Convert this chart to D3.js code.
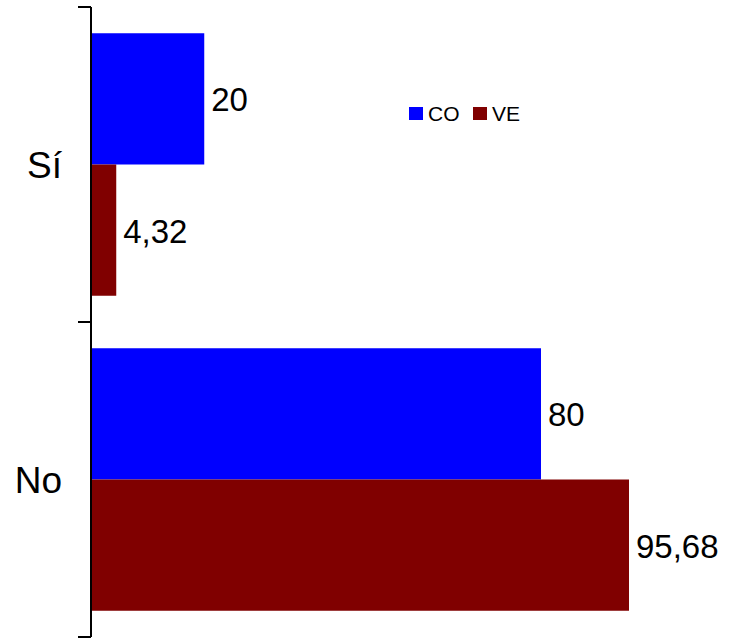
<!DOCTYPE html>
<html><head><meta charset="utf-8">
<script src="https://cdn.jsdelivr.net/npm/d3@7"></script>
<style>body{margin:0;background:#fff}svg{display:block}text{font-family:"Liberation Sans",Arial,sans-serif}</style>
</head><body><svg id="c" width="741" height="642"></svg>
<script>
const categories = ["Sí", "No"];
const seriesNames = ["CO", "VE"];
const CO = [20, 80];
const VE = [4.32, 95.68];
const labelsCO = ["20", "80"];
const labelsVE = ["4,32", "95,68"];
const colors = ["#0000ff", "#800000"];

const svg = d3.select("#c");
const x0 = 92, y0 = 7, y1 = 637;
const x = d3.scaleLinear().domain([0, 80]).range([x0, 541]);
const y = d3.scaleBand().domain(categories).range([y0, y1]).paddingInner(0).paddingOuter(0);
const inner = d3.scaleBand().domain(seriesNames).range([0, y.bandwidth()]).paddingInner(0).paddingOuter(0.2);

const series = [CO, VE];
const labels = [labelsCO, labelsVE];
series.forEach((vals, si) => {
  const g = svg.append("g");
  g.selectAll("rect").data(categories).join("rect")
    .attr("x", x(0))
    .attr("y", (c) => y(c) + inner(seriesNames[si]))
    .attr("width", (c, i) => x(vals[i]) - x(0))
    .attr("height", inner.bandwidth())
    .attr("fill", colors[si]);
  g.selectAll("text").data(categories).join("text")
    .attr("x", (c, i) => x(vals[i]) + 7)
    .attr("y", (c) => y(c) + inner(seriesNames[si]) + inner.bandwidth() / 2 + 1)
    .attr("dy", "0.35em")
    .attr("font-size", 33)
    .text((c, i) => labels[si][i]);
});

// axis
const ag = svg.append("g");
ag.append("line").attr("x1", 91).attr("x2", 91).attr("y1", y0).attr("y2", y1).attr("stroke", "#000").attr("stroke-width", 2);
const tickYs = [y0, y1 - y.bandwidth(), y1];
ag.selectAll(".tk").data(tickYs).join("line").attr("class", "tk")
  .attr("x1", 78).attr("x2", 91).attr("y1", d => d).attr("y2", d => d)
  .attr("stroke", "#000").attr("stroke-width", 2);
ag.selectAll(".cl").data(categories).join("text").attr("class", "cl")
  .attr("x", 62).attr("y", c => y(c) + y.bandwidth() / 2 + 1)
  .attr("dy", "0.35em").attr("text-anchor", "end").attr("font-size", 37)
  .text(c => c);

// legend
const lg = svg.append("g");
const lx = [409, 473];
seriesNames.forEach((s, i) => {
  lg.append("rect").attr("x", lx[i]).attr("y", 107).attr("width", 14).attr("height", 13).attr("fill", colors[i]);
  lg.append("text").attr("x", lx[i] + 19).attr("y", 114).attr("dy", "0.35em").attr("font-size", 21).text(s);
});
</script></body></html>
